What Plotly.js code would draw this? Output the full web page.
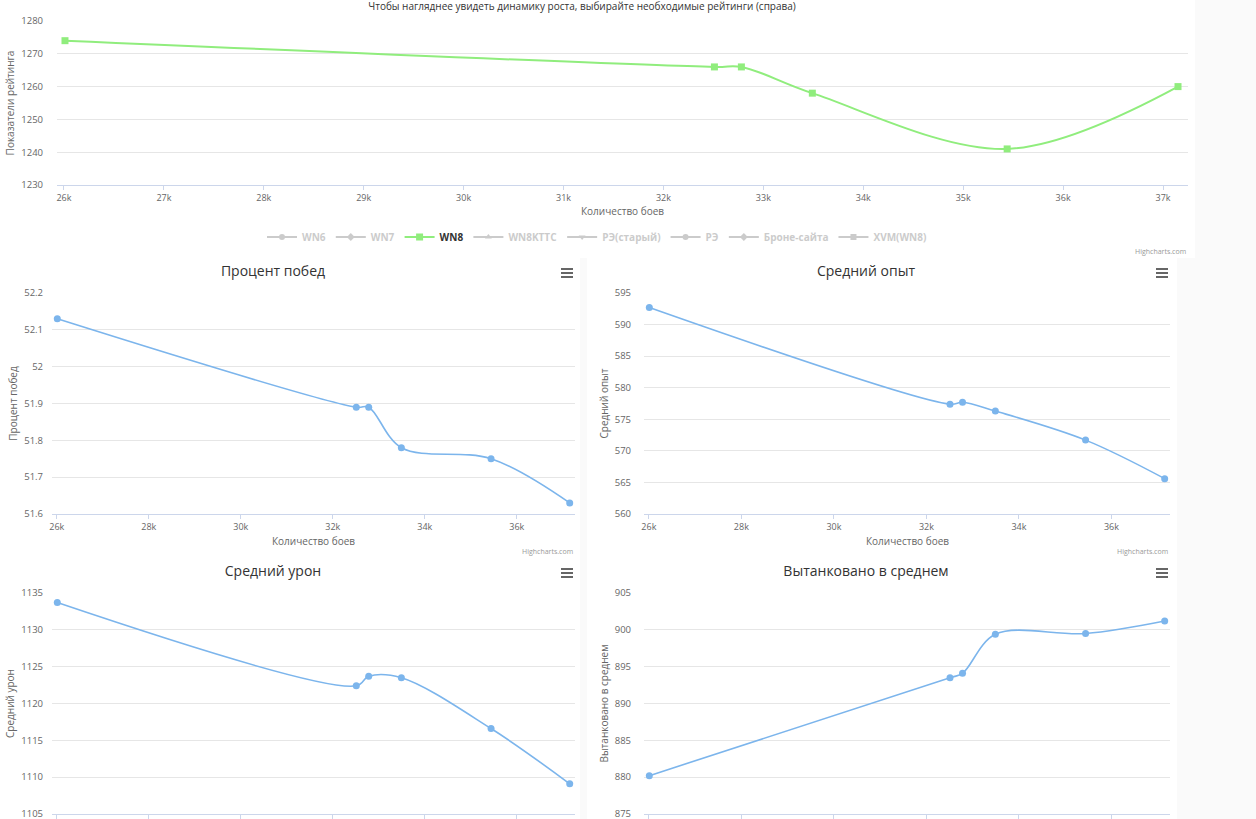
<!DOCTYPE html>
<html>
<head>
<meta charset="utf-8">
<script src="https://cdn.plot.ly/plotly-3.0.1.min.js"></script>
<style>
  body { margin: 0; width: 1256px; height: 819px; overflow: hidden; position: relative; background: #fafafa; }
  .box { position: absolute; background: #fff; }
</style>
</head>
<body>
<div id="rating" class="box" style="left:0;top:0;width:1195px;height:258px"></div>
<div id="winrate" class="box" style="left:0;top:258px;width:580px;height:300px"></div>
<div id="xp" class="box" style="left:587px;top:258px;width:590px;height:300px"></div>
<div id="damage" class="box" style="left:0;top:558px;width:580px;height:300px"></div>
<div id="tanked" class="box" style="left:587px;top:558px;width:590px;height:300px"></div>
<script>
// количество боев (ось X) — общее для всех графиков
var battles = [26010, 32510, 32780, 33490, 35440, 37150];

// рейтинги
var wn8 = [1274, 1266, 1266, 1258, 1241, 1260];
var hiddenRatings = ['WN6', 'WN7', 'WN8KTTC', 'РЭ(старый)', 'РЭ', 'Броне-сайта', 'XVM(WN8)'];

// показатели
var winRate = [52.13, 51.89, 51.89, 51.78, 51.75, 51.63];
var avgXp = [592.7, 577.4, 577.7, 576.3, 571.7, 565.6];
var avgDamage = [1133.7, 1122.4, 1123.7, 1123.5, 1116.6, 1109.1];
var avgTanked = [880.2, 893.5, 894.1, 899.4, 899.5, 901.2];

// подписи делений
var ratingTicks = [26000, 27000, 28000, 29000, 30000, 31000, 32000, 33000, 34000, 35000, 36000, 37000];
var ratingTickText = ['26k', '27k', '28k', '29k', '30k', '31k', '32k', '33k', '34k', '35k', '36k', '37k'];
var smallTicks = [26000, 28000, 30000, 32000, 34000, 36000];
var smallTickText = ['26k', '28k', '30k', '32k', '34k', '36k'];

var FONT = 'Open Sans, sans-serif';
var config = { displayModeBar: false, staticPlot: true };

function axisX(range, vals, text) {
  return {
    range: range, tickvals: vals, ticktext: text,
    ticks: 'outside', ticklen: 4, tickcolor: '#ccd6eb',
    showline: true, linecolor: '#ccd6eb', linewidth: 1,
    showgrid: false, zeroline: false,
    tickfont: { family: FONT, size: 9, color: '#666' }
  };
}

function axisY(range, dtick, title, standoff) {
  return {
    range: range, dtick: dtick,
    gridcolor: '#e6e6e6', showline: false, zeroline: false,
    ticklabelstandoff: standoff,
    tickfont: { family: FONT, size: 9.5, color: '#666' },
    title: { text: title, font: { family: FONT, size: 10, color: '#666' }, standoff: 4 }
  };
}

function xTitle(y) {
  return {
    text: 'Количество боев', xref: 'paper', yref: 'paper', x: 0.5, y: y,
    xanchor: 'center', yanchor: 'middle', showarrow: false,
    font: { family: FONT, size: 10, color: '#666' }
  };
}

function credits(y) {
  return {
    text: 'Highcharts.com', xref: 'paper', yref: 'paper', x: 1, y: y,
    xanchor: 'right', yanchor: 'middle', showarrow: false,
    font: { family: FONT, size: 7, color: '#999' }
  };
}

// ---- верхний график рейтингов ----
var ratingTraces = [];
var symbols = ['circle', 'diamond', 'triangle-up', 'triangle-down', 'circle', 'diamond', 'square'];
hiddenRatings.forEach(function (name, i) {
  ratingTraces.push({
    x: [null], y: [null], name: '<b><span style="color:#999">' + name + '</span></b>',
    type: 'scatter', mode: 'lines+markers', visible: 'legendonly',
    line: { color: '#999', width: 2 },
    marker: { symbol: symbols[i], size: 6, color: '#999' }
  });
});
ratingTraces.splice(2, 0, {
  x: battles, y: wn8, name: '<b>WN8</b>',
  type: 'scatter', mode: 'lines+markers',
  line: { color: '#90ed7d', width: 2, shape: 'spline' },
  marker: { symbol: 'square', size: 7, color: '#90ed7d' }
});

var rm = { l: 57, r: 7, t: 21, b: 73 };
var rph = 258 - rm.t - rm.b;
Plotly.newPlot('rating', ratingTraces, {
  width: 1195, height: 258, margin: rm,
  paper_bgcolor: '#fff', plot_bgcolor: '#fff',
  font: { family: FONT },
  title: {
    text: 'Чтобы нагляднее увидеть динамику роста, выбирайте необходимые рейтинги (справа)',
    font: { family: FONT, size: 10, color: '#333' },
    x: 582 / 1195, xanchor: 'center', y: 1 - 6 / 258, yanchor: 'middle'
  },
  xaxis: axisX([25930, 37250], ratingTicks, ratingTickText),
  yaxis: axisY([1230, 1280], 10, 'Показатели рейтинга', 13),
  showlegend: true,
  legend: {
    orientation: 'h', x: (597 - 57) / 1131, xanchor: 'center',
    y: (185 - 237) / rph, yanchor: 'middle',
    font: { family: FONT, size: 10, color: '#333' }
  },
  annotations: [xTitle((185 - 211) / rph), credits((185 - 251) / rph)]
}, config);

// ---- малые графики ----
function smallChart(id, width, m, title, titleX, values, yRange, yDtick, standoff) {
  var H = 300;
  var pw = width - m.l - m.r, ph = H - m.t - m.b;
  function px(x) { return (x - m.l) / pw; }
  function py(y) { return (H - m.b - y) / ph; }
  var iconX = width - m.r - 14;
  var shapes = [11, 15, 19].map(function (yy) {
    return {
      type: 'line', xref: 'paper', yref: 'paper',
      x0: px(iconX), x1: px(iconX + 12), y0: py(yy), y1: py(yy),
      line: { color: '#666', width: 2 }
    };
  });
  Plotly.newPlot(id, [{
    x: battles, y: values, name: title,
    type: 'scatter', mode: 'lines+markers',
    line: { color: '#7cb5ec', width: 1.6, shape: 'spline' },
    marker: { symbol: 'circle', size: 7, color: '#7cb5ec' }
  }], {
    width: width, height: H, margin: m,
    paper_bgcolor: '#fff', plot_bgcolor: '#fff',
    font: { family: FONT },
    showlegend: false,
    title: {
      text: title, font: { family: FONT, size: 14, color: '#333' },
      x: titleX / width, xanchor: 'center', y: 1 - 13 / H, yanchor: 'middle'
    },
    xaxis: axisX([25895, 37265], smallTicks, smallTickText),
    yaxis: axisY(yRange, yDtick, title, standoff),
    shapes: shapes,
    annotations: [xTitle(py(283)), credits(py(293))]
  }, config);
}

var ml = { l: 52, r: 5, t: 35, b: 44 };
var mr = { l: 57, r: 7, t: 35, b: 44 };
smallChart('winrate', 580, ml, 'Процент побед', 273, winRate, [51.6, 52.2], 0.1, 8);
smallChart('xp', 590, mr, 'Средний опыт', 279, avgXp, [560, 595], 5, 12);
smallChart('damage', 580, ml, 'Средний урон', 273, avgDamage, [1105, 1135], 5, 8);
smallChart('tanked', 590, mr, 'Вытанковано в среднем', 279, avgTanked, [875, 905], 5, 12);
</script>
</body>
</html>
